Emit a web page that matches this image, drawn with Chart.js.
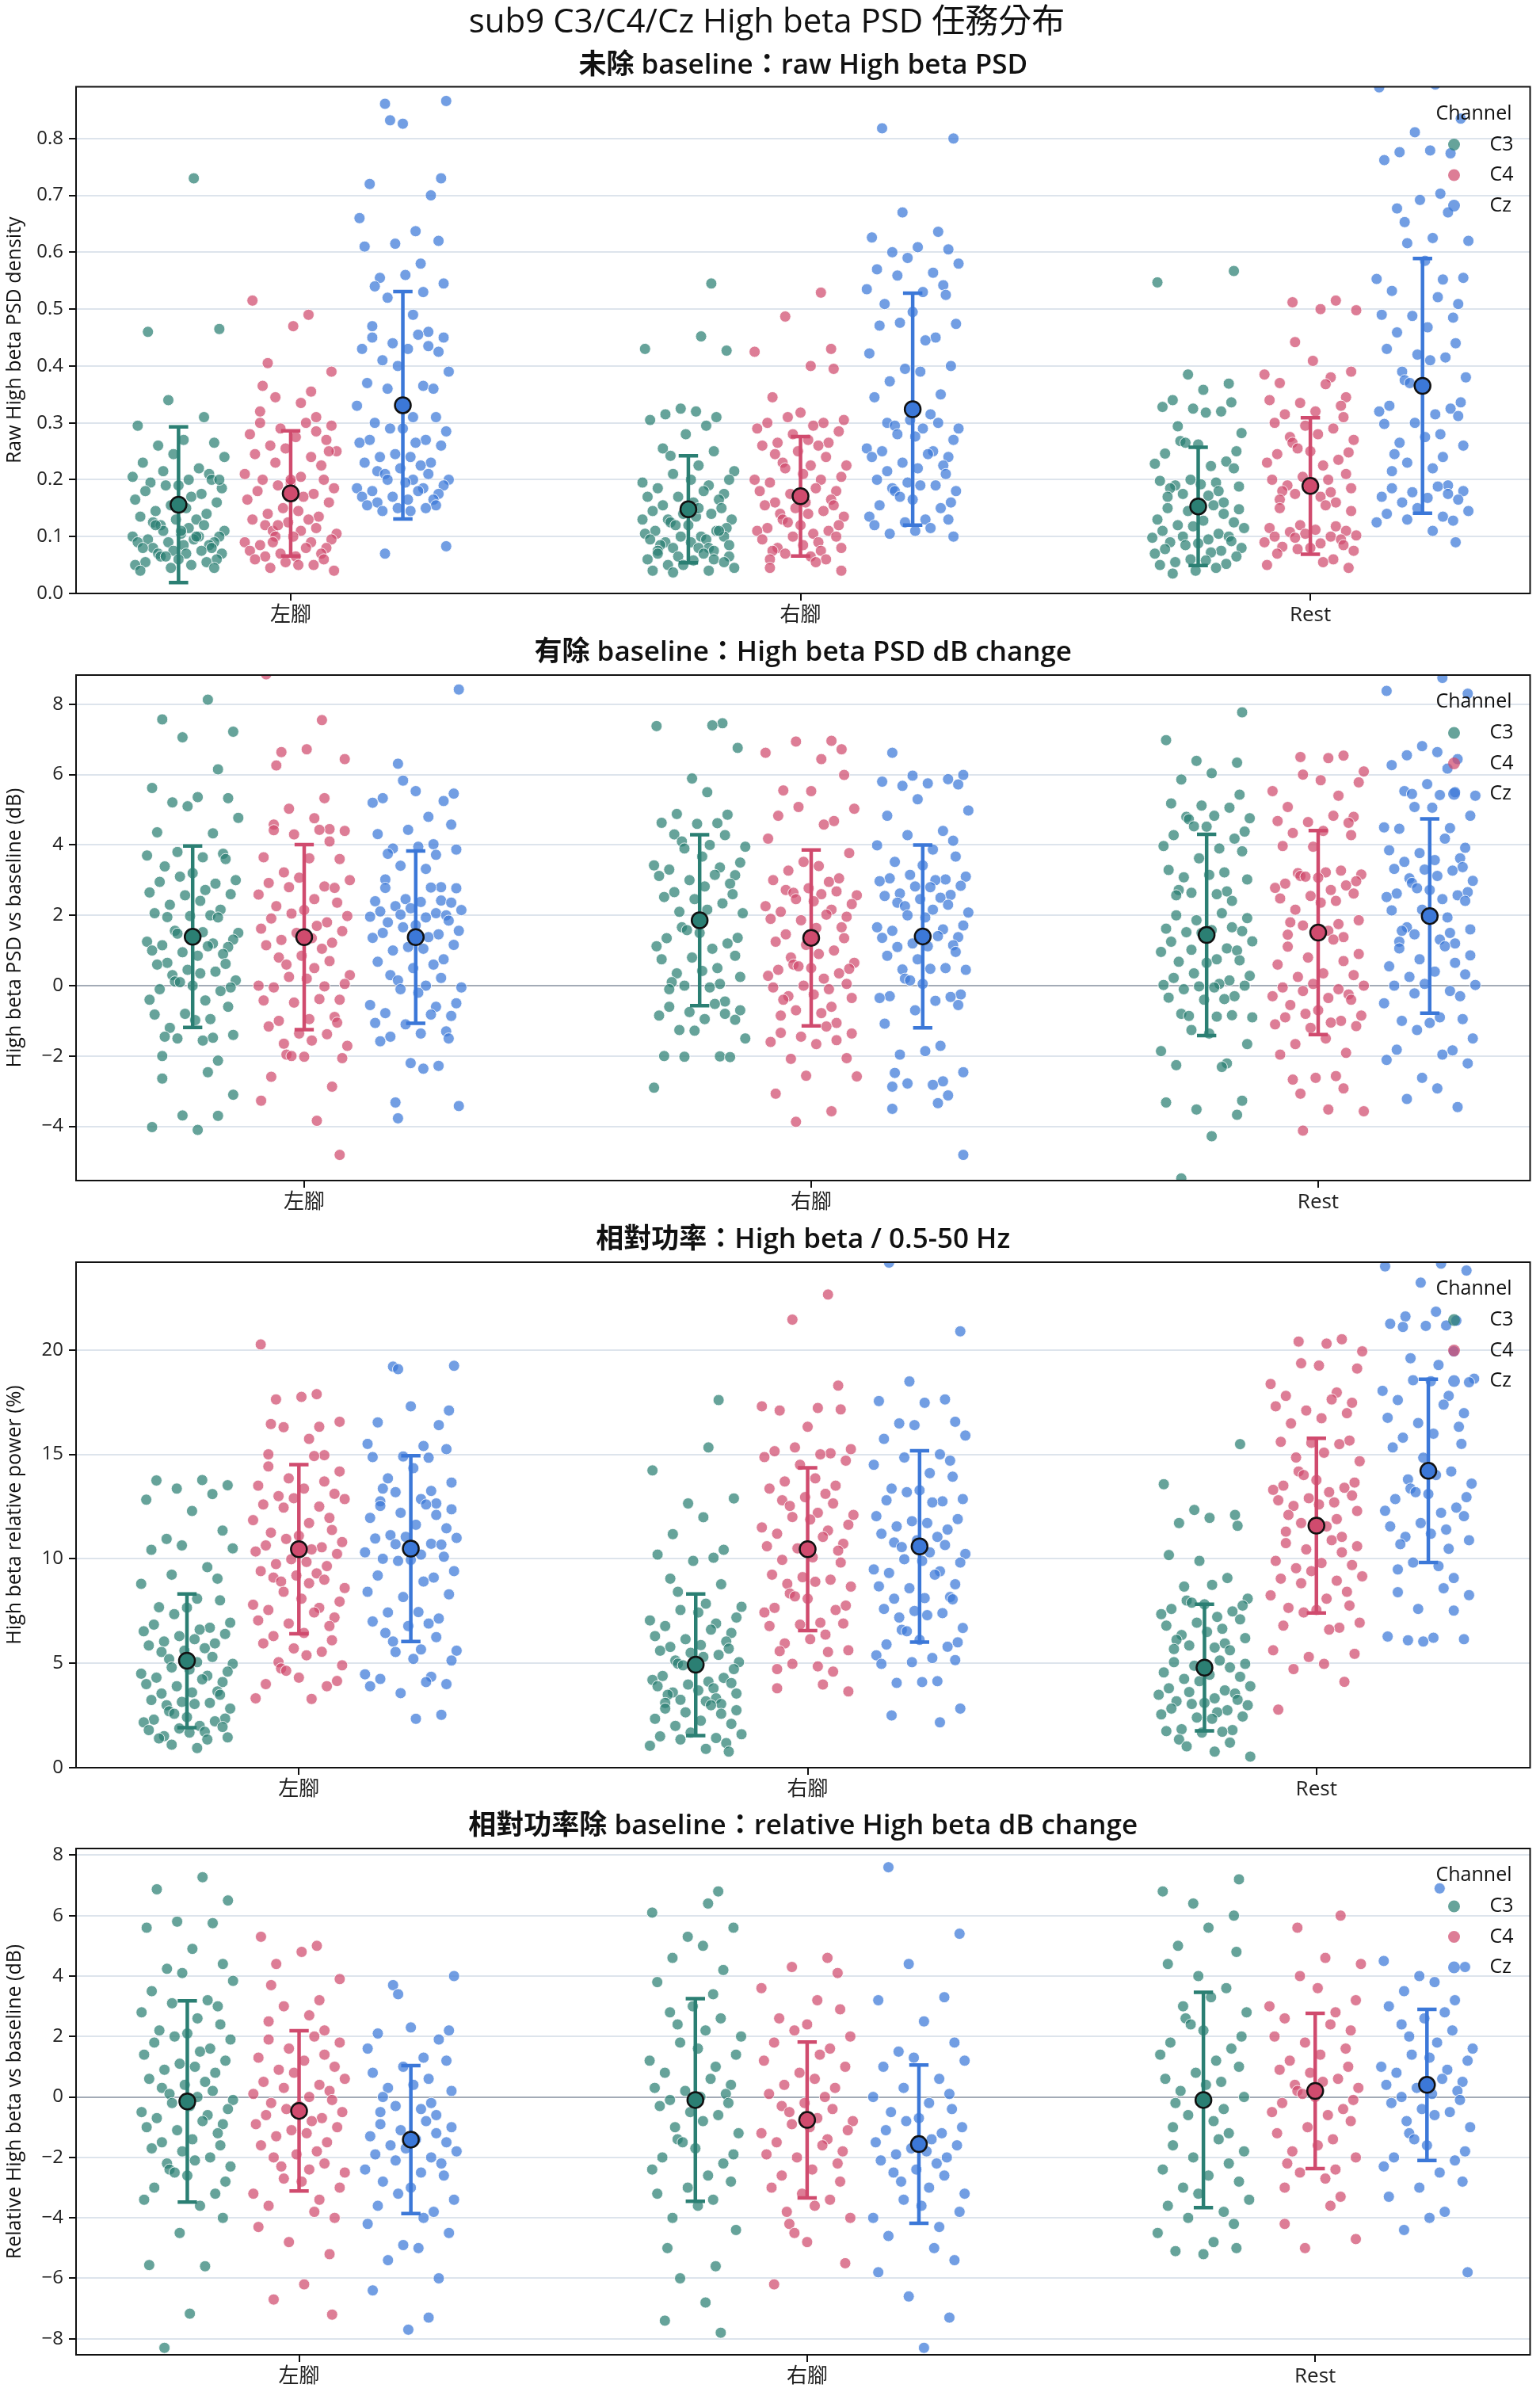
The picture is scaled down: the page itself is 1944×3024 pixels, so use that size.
<!DOCTYPE html>
<html>
<head>
<meta charset="utf-8">
<script src="https://cdn.jsdelivr.net/npm/chart.js@4.4.1/dist/chart.umd.min.js"></script>
<style>
  html, body { margin: 0; padding: 0; background: #fff; }
  #wrap { position: relative; width: 1944px; height: 3024px; background: #fff; }
  canvas { position: absolute; left: 0; }
</style>
</head>
<body>
<div id="wrap">
  <canvas id="c1"></canvas>
  <canvas id="c2"></canvas>
  <canvas id="c3"></canvas>
  <canvas id="c4"></canvas>
</div>
<script>
// categorias y canales
const categories = ['左腳', '右腳', 'Rest'];
const channels = ['C3', 'C4', 'Cz'];

// ticks de cada panel
const rawTicks = [0, 0.1, 0.2, 0.3, 0.4, 0.5, 0.6, 0.7, 0.8];
const dbTicks = [-4, -2, 0, 2, 4, 6, 8];
const relTicks = [0, 5, 10, 15, 20];
const rdbTicks = [-8, -6, -4, -2, 0, 2, 4, 6, 8];

// jitter horizontal (offset dentro de cada grupo)
const jitter = [0.03, -0.06, 0.08, -0.02, 0.05, -0.08, 0.01, 0.07, -0.04, -0.01,
  0.09, -0.07, 0.04, -0.03, 0.06, -0.09, 0.02, 0.065, -0.055, 0.0,
  -0.025, 0.085, -0.065, 0.045, 0.025, -0.085, 0.075, -0.015, 0.015, -0.045,
  0.055, -0.075, 0.035, -0.005, -0.05, 0.05, -0.035, 0.02, 0.09, -0.03,
  0.005, 0.08, -0.09, 0.04, -0.06, 0.03, 0.07, -0.08, -0.02, 0.06,
  0.01, -0.05, 0.065, -0.07, -0.01, 0.045, 0.015, -0.04, 0.085, -0.035,
  -0.025, 0.0, 0.075, -0.065, 0.055, -0.085, 0.025, 0.07, -0.015, -0.075,
  0.035, 0.005, -0.045, 0.08, -0.055, 0.04, -0.03, 0.02, -0.06, 0.05];

// ---- Panel 1: raw High beta PSD ----
const rawC3L = [0.73, 0.46, 0.465, 0.34, 0.31, 0.295, 0.27, 0.265, 0.26, 0.245, 0.24, 0.23, 0.22, 0.215, 0.21, 0.205, 0.2, 0.2, 0.195, 0.19, 0.19, 0.185, 0.18, 0.175, 0.17, 0.165, 0.16, 0.155, 0.15, 0.145, 0.14, 0.135, 0.13, 0.13, 0.125, 0.12, 0.12, 0.115, 0.11, 0.11, 0.105, 0.1, 0.1, 0.1, 0.095, 0.095, 0.09, 0.09, 0.09, 0.085, 0.085, 0.08, 0.08, 0.08, 0.075, 0.075, 0.07, 0.07, 0.07, 0.065, 0.065, 0.06, 0.06, 0.055, 0.055, 0.05, 0.05, 0.045, 0.045, 0.04, 0.1, 0.11, 0.12, 0.2];
const rawC3R = [0.545, 0.452, 0.43, 0.427, 0.325, 0.32, 0.315, 0.31, 0.305, 0.295, 0.28, 0.255, 0.25, 0.242, 0.225, 0.215, 0.21, 0.2, 0.2, 0.195, 0.19, 0.185, 0.18, 0.175, 0.17, 0.17, 0.165, 0.16, 0.155, 0.15, 0.145, 0.14, 0.14, 0.135, 0.13, 0.13, 0.125, 0.12, 0.12, 0.115, 0.11, 0.11, 0.105, 0.1, 0.1, 0.1, 0.095, 0.095, 0.09, 0.09, 0.085, 0.085, 0.08, 0.08, 0.08, 0.075, 0.075, 0.07, 0.07, 0.065, 0.065, 0.06, 0.06, 0.058, 0.055, 0.05, 0.05, 0.045, 0.04, 0.04, 0.037, 0.11, 0.13, 0.15];
const rawC3Rest = [0.567, 0.547, 0.385, 0.369, 0.358, 0.34, 0.336, 0.328, 0.325, 0.32, 0.318, 0.294, 0.282, 0.268, 0.265, 0.262, 0.25, 0.246, 0.232, 0.228, 0.224, 0.22, 0.2, 0.198, 0.195, 0.192, 0.19, 0.188, 0.185, 0.18, 0.175, 0.172, 0.17, 0.16, 0.155, 0.15, 0.148, 0.145, 0.14, 0.13, 0.128, 0.125, 0.12, 0.118, 0.115, 0.11, 0.105, 0.1, 0.1, 0.098, 0.095, 0.092, 0.09, 0.088, 0.085, 0.08, 0.078, 0.075, 0.072, 0.07, 0.065, 0.06, 0.058, 0.055, 0.052, 0.05, 0.045, 0.04, 0.035];
const rawC4L = [0.515, 0.49, 0.47, 0.405, 0.39, 0.365, 0.355, 0.345, 0.335, 0.32, 0.31, 0.3, 0.3, 0.295, 0.29, 0.285, 0.28, 0.275, 0.27, 0.26, 0.255, 0.25, 0.245, 0.24, 0.23, 0.225, 0.21, 0.205, 0.2, 0.2, 0.195, 0.19, 0.185, 0.18, 0.175, 0.17, 0.165, 0.16, 0.15, 0.145, 0.14, 0.135, 0.13, 0.13, 0.125, 0.12, 0.115, 0.11, 0.11, 0.105, 0.1, 0.1, 0.095, 0.09, 0.09, 0.085, 0.08, 0.08, 0.075, 0.07, 0.07, 0.065, 0.065, 0.06, 0.06, 0.055, 0.05, 0.05, 0.045, 0.04, 0.09, 0.12, 0.2, 0.25];
const rawC4R = [0.529, 0.487, 0.43, 0.425, 0.4, 0.395, 0.345, 0.318, 0.31, 0.305, 0.3, 0.3, 0.295, 0.29, 0.285, 0.28, 0.27, 0.265, 0.265, 0.26, 0.26, 0.25, 0.245, 0.24, 0.23, 0.225, 0.225, 0.22, 0.21, 0.205, 0.2, 0.2, 0.195, 0.185, 0.18, 0.18, 0.175, 0.165, 0.16, 0.16, 0.155, 0.155, 0.15, 0.145, 0.14, 0.14, 0.135, 0.13, 0.125, 0.12, 0.12, 0.115, 0.11, 0.11, 0.105, 0.1, 0.1, 0.095, 0.09, 0.085, 0.08, 0.08, 0.075, 0.075, 0.07, 0.065, 0.06, 0.06, 0.055, 0.045, 0.04];
const rawC4Rest = [0.515, 0.512, 0.5, 0.498, 0.442, 0.409, 0.39, 0.385, 0.38, 0.37, 0.368, 0.345, 0.34, 0.335, 0.33, 0.32, 0.315, 0.31, 0.3, 0.295, 0.29, 0.28, 0.275, 0.27, 0.265, 0.255, 0.25, 0.248, 0.245, 0.235, 0.23, 0.225, 0.21, 0.205, 0.2, 0.2, 0.195, 0.19, 0.185, 0.18, 0.178, 0.175, 0.17, 0.165, 0.16, 0.155, 0.15, 0.145, 0.12, 0.118, 0.115, 0.112, 0.11, 0.108, 0.105, 0.102, 0.1, 0.1, 0.098, 0.095, 0.09, 0.088, 0.085, 0.082, 0.08, 0.078, 0.075, 0.07, 0.06, 0.055, 0.05, 0.045];
const rawCzL = [0.866, 0.861, 0.832, 0.826, 0.73, 0.72, 0.7, 0.66, 0.637, 0.62, 0.615, 0.61, 0.58, 0.56, 0.555, 0.545, 0.54, 0.53, 0.52, 0.49, 0.47, 0.46, 0.455, 0.45, 0.45, 0.44, 0.435, 0.43, 0.43, 0.425, 0.41, 0.4, 0.39, 0.37, 0.365, 0.36, 0.36, 0.33, 0.31, 0.31, 0.3, 0.29, 0.29, 0.285, 0.27, 0.27, 0.265, 0.265, 0.26, 0.245, 0.24, 0.24, 0.23, 0.23, 0.225, 0.22, 0.215, 0.21, 0.21, 0.2, 0.2, 0.2, 0.195, 0.19, 0.185, 0.185, 0.18, 0.18, 0.175, 0.17, 0.17, 0.165, 0.165, 0.16, 0.155, 0.155, 0.15, 0.15, 0.145, 0.145, 0.083, 0.07];
const rawCzR = [0.818, 0.8, 0.67, 0.636, 0.626, 0.609, 0.605, 0.6, 0.59, 0.58, 0.57, 0.564, 0.559, 0.542, 0.535, 0.53, 0.525, 0.509, 0.495, 0.476, 0.474, 0.471, 0.45, 0.445, 0.422, 0.4, 0.395, 0.39, 0.373, 0.35, 0.345, 0.315, 0.305, 0.3, 0.3, 0.295, 0.29, 0.29, 0.28, 0.276, 0.27, 0.255, 0.25, 0.25, 0.245, 0.24, 0.24, 0.23, 0.225, 0.22, 0.215, 0.21, 0.2, 0.195, 0.19, 0.19, 0.185, 0.18, 0.18, 0.17, 0.165, 0.16, 0.155, 0.15, 0.135, 0.13, 0.13, 0.125, 0.12, 0.115, 0.11, 0.105, 0.1];
const rawCzRest = [0.895, 0.89, 0.835, 0.811, 0.779, 0.776, 0.774, 0.762, 0.703, 0.692, 0.677, 0.67, 0.653, 0.625, 0.62, 0.616, 0.585, 0.555, 0.553, 0.552, 0.532, 0.521, 0.509, 0.49, 0.488, 0.485, 0.468, 0.459, 0.44, 0.43, 0.42, 0.415, 0.41, 0.39, 0.38, 0.375, 0.37, 0.36, 0.336, 0.33, 0.325, 0.32, 0.315, 0.312, 0.3, 0.298, 0.28, 0.275, 0.265, 0.26, 0.245, 0.24, 0.23, 0.22, 0.215, 0.19, 0.188, 0.185, 0.18, 0.178, 0.175, 0.17, 0.168, 0.165, 0.16, 0.15, 0.145, 0.14, 0.135, 0.13, 0.128, 0.125, 0.11, 0.09];
const rawMeanC3 = [0.156, 0.148, 0.153], rawSdC3 = [0.137, 0.094, 0.104];
const rawMeanC4 = [0.176, 0.171, 0.189], rawSdC4 = [0.11, 0.105, 0.12];
const rawMeanCz = [0.331, 0.324, 0.365], rawSdCz = [0.2, 0.204, 0.224];

// ---- Panel 2: dB change ----
const dbC3L = [8.13, 7.57, 7.22, 7.06, 6.15, 5.62, 5.36, 5.33, 5.21, 5.1, 4.77, 4.36, 4.33, 3.8, 3.75, 3.7, 3.65, 3.6, 3.39, 3.2, 3.1, 3.0, 2.95, 2.9, 2.72, 2.65, 2.6, 2.57, 2.41, 2.3, 2.16, 2.06, 2.0, 1.98, 1.95, 1.94, 1.56, 1.52, 1.5, 1.48, 1.46, 1.31, 1.25, 1.2, 1.15, 1.12, 1.1, 1.0, 0.95, 0.9, 0.85, 0.65, 0.62, 0.6, 0.45, 0.4, 0.35, 0.3, 0.15, 0.12, 0.1, 0.0, -0.05, -0.1, -0.15, -0.4, -0.42, -0.6, -0.8, -0.82, -0.95, -0.98, -1.2, -1.4, -1.45, -1.48, -1.5, -1.56, -2.0, -2.13, -2.46, -2.64, -3.1, -3.69, -3.7, -4.02, -4.1];
const dbC3R = [7.46, 7.4, 7.38, 6.76, 5.89, 5.5, 4.88, 4.86, 4.63, 4.62, 4.6, 4.3, 4.28, 4.1, 4.0, 3.95, 3.9, 3.67, 3.5, 3.42, 3.36, 3.3, 3.15, 3.14, 3.12, 3.0, 2.9, 2.82, 2.66, 2.6, 2.52, 2.46, 2.34, 2.16, 2.1, 2.06, 1.66, 1.58, 1.5, 1.36, 1.35, 1.2, 1.12, 1.05, 0.85, 0.8, 0.75, 0.5, 0.42, 0.35, 0.25, 0.1, 0.05, 0.0, -0.05, -0.1, -0.45, -0.52, -0.6, -0.7, -0.75, -0.8, -0.85, -0.95, -0.97, -1.26, -1.28, -1.5, -2.0, -2.01, -2.02, -2.03, -2.9];
const dbC3Rest = [7.77, 6.98, 6.39, 6.34, 6.04, 5.86, 5.43, 5.18, 5.12, 5.06, 4.83, 4.8, 4.76, 4.73, 4.53, 4.52, 4.38, 4.28, 4.18, 3.97, 3.9, 3.82, 3.62, 3.29, 3.22, 3.15, 3.08, 3.02, 2.72, 2.68, 2.64, 2.6, 2.57, 2.41, 2.06, 2.0, 1.92, 1.86, 1.66, 1.62, 1.58, 1.55, 1.52, 1.5, 1.26, 1.25, 1.06, 1.02, 1.0, 0.96, 0.75, 0.72, 0.68, 0.65, 0.35, 0.28, 0.22, 0.15, 0.05, 0.02, 0.0, -0.02, -0.05, -0.1, -0.3, -0.34, -0.38, -0.4, -0.8, -0.84, -0.86, -0.88, -0.9, -1.26, -1.36, -1.66, -1.86, -2.21, -2.26, -2.31, -3.27, -3.32, -3.52, -3.67, -4.28, -5.48];
const dbC4L = [8.85, 7.55, 6.72, 6.64, 6.44, 6.26, 5.33, 5.03, 4.76, 4.58, 4.45, 4.43, 4.42, 4.4, 4.3, 4.1, 3.65, 3.62, 3.6, 3.22, 3.07, 3.0, 2.92, 2.82, 2.8, 2.78, 2.59, 2.46, 2.36, 2.26, 2.15, 2.05, 1.98, 1.91, 1.8, 1.7, 1.62, 1.55, 1.5, 1.35, 1.3, 1.22, 1.15, 1.05, 0.85, 0.8, 0.7, 0.6, 0.5, 0.3, 0.25, 0.2, 0.05, 0.0, -0.02, -0.05, -0.38, -0.4, -0.42, -0.48, -0.89, -0.95, -1.0, -1.05, -1.16, -1.36, -1.38, -1.56, -1.65, -1.71, -1.96, -2.0, -2.02, -2.06, -2.59, -2.87, -3.27, -3.84, -4.81];
const dbC4R = [6.96, 6.94, 6.72, 6.62, 6.44, 5.99, 5.55, 5.53, 5.08, 5.03, 4.83, 4.68, 4.58, 4.18, 3.77, 3.52, 3.4, 3.27, 3.05, 3.0, 2.95, 2.77, 2.72, 2.68, 2.64, 2.6, 2.57, 2.46, 2.4, 2.32, 2.26, 2.16, 2.1, 2.02, 1.96, 1.9, 1.86, 1.66, 1.64, 1.46, 1.35, 1.25, 1.16, 1.0, 0.9, 0.8, 0.65, 0.6, 0.55, 0.5, 0.48, 0.45, 0.35, 0.28, 0.2, 0.05, 0.0, -0.05, -0.1, -0.25, -0.3, -0.35, -0.4, -0.6, -0.7, -0.78, -0.85, -1.06, -1.16, -1.34, -1.36, -1.45, -1.55, -1.6, -1.66, -2.06, -2.08, -2.56, -2.58, -3.07, -3.57, -3.87];
const dbC4Rest = [6.54, 6.5, 6.47, 6.09, 6.0, 5.84, 5.78, 5.53, 5.4, 5.08, 4.83, 4.8, 4.68, 4.65, 4.63, 4.4, 4.34, 4.28, 3.97, 3.95, 3.27, 3.22, 3.2, 3.16, 3.12, 3.1, 3.07, 2.97, 2.9, 2.85, 2.78, 2.72, 2.62, 2.55, 2.48, 2.41, 2.36, 2.16, 1.86, 1.8, 1.75, 1.71, 1.56, 1.45, 1.38, 1.31, 1.11, 0.9, 0.8, 0.7, 0.6, 0.35, 0.3, 0.25, 0.05, 0.0, -0.05, -0.1, -0.15, -0.25, -0.3, -0.35, -0.4, -0.55, -0.7, -0.8, -0.85, -0.9, -1.0, -1.05, -1.1, -1.15, -1.2, -1.5, -1.66, -1.91, -1.96, -2.57, -2.62, -2.67, -2.92, -3.07, -3.52, -3.57, -4.12];
const dbCzL = [8.42, 6.31, 5.83, 5.53, 5.46, 5.33, 5.25, 5.2, 4.8, 4.58, 4.43, 4.31, 4.02, 3.95, 3.9, 3.87, 3.75, 3.72, 3.41, 3.32, 3.02, 2.8, 2.79, 2.78, 2.77, 2.46, 2.42, 2.4, 2.38, 2.36, 2.26, 2.2, 2.15, 2.11, 2.06, 2.02, 2.0, 1.96, 1.94, 1.85, 1.8, 1.72, 1.66, 1.56, 1.5, 1.46, 1.38, 1.36, 1.16, 1.1, 1.05, 1.0, 0.75, 0.68, 0.6, 0.5, 0.3, 0.22, 0.15, 0.0, -0.05, -0.1, -0.2, -0.5, -0.55, -0.6, -0.78, -0.82, -0.86, -1.06, -1.1, -1.3, -1.36, -1.45, -1.5, -1.58, -2.2, -2.28, -2.36, -3.32, -3.42, -3.77];
const dbCzR = [6.62, 5.99, 5.97, 5.87, 5.8, 5.75, 5.72, 5.68, 5.3, 4.98, 4.83, 4.4, 4.28, 4.12, 3.99, 3.87, 3.67, 3.52, 3.42, 3.15, 3.1, 3.05, 3.02, 3.0, 2.97, 2.84, 2.82, 2.8, 2.62, 2.58, 2.55, 2.5, 2.46, 2.36, 2.3, 2.26, 2.16, 2.08, 2.0, 1.94, 1.71, 1.66, 1.6, 1.56, 1.41, 1.38, 1.36, 1.2, 1.15, 1.12, 1.1, 0.96, 0.85, 0.75, 0.5, 0.48, 0.46, 0.45, 0.2, 0.15, 0.05, -0.25, -0.3, -0.32, -0.35, -0.43, -0.55, -0.7, -1.08, -1.71, -1.86, -1.96, -2.46, -2.48, -2.72, -2.78, -2.82, -2.87, -3.12, -3.34, -3.5, -4.81];
const dbCzRest = [8.75, 8.38, 8.3, 6.81, 6.64, 6.55, 6.44, 6.27, 6.17, 5.73, 5.53, 5.5, 5.45, 5.42, 5.4, 5.08, 5.06, 4.83, 4.5, 4.48, 4.46, 4.18, 3.92, 3.85, 3.77, 3.62, 3.57, 3.52, 3.37, 3.32, 3.3, 3.27, 3.12, 3.05, 2.98, 2.92, 2.77, 2.72, 2.66, 2.62, 2.57, 2.52, 2.46, 2.41, 2.16, 2.14, 1.94, 1.91, 1.66, 1.6, 1.56, 1.5, 1.46, 1.31, 1.25, 1.2, 1.12, 1.06, 0.86, 0.75, 0.65, 0.55, 0.4, 0.32, 0.25, 0.05, 0.02, 0.0, -0.15, -0.22, -0.3, -0.5, -0.9, -0.95, -1.0, -1.06, -1.26, -1.5, -1.82, -1.84, -1.96, -2.11, -2.21, -2.62, -2.92, -3.22, -3.45];
const dbMeanC3 = [1.39, 1.86, 1.44], dbSdC3 = [2.58, 2.43, 2.86];
const dbMeanC4 = [1.38, 1.36, 1.51], dbSdC4 = [2.63, 2.5, 2.9];
const dbMeanCz = [1.38, 1.40, 1.98], dbSdCz = [2.45, 2.6, 2.76];

// ---- Panel 3: relative power (%) ----
const relC3L = [13.77, 13.75, 13.52, 13.36, 13.1, 12.83, 12.29, 11.35, 10.95, 10.64, 10.5, 10.43, 9.6, 9.24, 9.05, 8.8, 8.09, 8.01, 7.68, 7.66, 7.35, 6.94, 6.85, 6.7, 6.61, 6.53, 6.4, 6.3, 6.15, 6.04, 5.95, 5.85, 5.72, 5.6, 5.54, 5.3, 5.2, 5.05, 4.97, 4.8, 4.7, 4.6, 4.5, 4.4, 4.31, 4.23, 4.1, 4.0, 3.9, 3.65, 3.6, 3.55, 3.49, 3.24, 3.15, 3.1, 3.05, 2.99, 2.83, 2.7, 2.58, 2.42, 2.35, 2.3, 2.22, 2.17, 2.0, 1.95, 1.88, 1.8, 1.72, 1.68, 1.51, 1.45, 1.4, 1.35, 1.1, 0.94];
const relC3R = [17.6, 15.33, 14.23, 12.89, 12.65, 11.99, 11.18, 10.43, 10.2, 10.05, 9.9, 9.05, 8.78, 8.42, 7.85, 7.7, 7.55, 7.43, 7.19, 7.05, 6.9, 6.78, 6.61, 6.45, 6.3, 6.15, 6.04, 5.87, 5.78, 5.7, 5.6, 5.5, 5.4, 5.3, 5.13, 5.05, 4.98, 4.9, 4.8, 4.72, 4.39, 4.3, 4.2, 4.12, 4.05, 3.98, 3.9, 3.8, 3.7, 3.6, 3.55, 3.49, 3.32, 3.25, 3.18, 3.1, 3.05, 2.99, 2.83, 2.75, 2.65, 2.58, 2.34, 2.25, 2.1, 2.0, 1.68, 1.6, 1.5, 1.42, 1.35, 1.18, 1.05, 0.9, 0.77];
const relC3Rest = [15.49, 13.57, 12.34, 12.1, 11.96, 11.71, 11.58, 10.18, 9.9, 9.08, 8.75, 8.67, 8.09, 8.0, 7.9, 7.82, 7.76, 7.6, 7.48, 7.35, 7.22, 7.1, 6.94, 6.8, 6.65, 6.5, 6.35, 6.2, 6.12, 5.95, 5.85, 5.75, 5.68, 5.62, 5.13, 5.05, 4.97, 4.88, 4.8, 4.56, 4.45, 4.35, 4.25, 4.14, 3.9, 3.8, 3.7, 3.62, 3.55, 3.49, 3.32, 3.25, 3.18, 3.1, 3.05, 2.99, 2.83, 2.75, 2.65, 2.55, 2.45, 2.4, 2.34, 1.84, 1.8, 1.75, 1.72, 1.68, 1.35, 1.2, 1.02, 0.77, 0.53];
const relC4L = [20.26, 17.88, 17.75, 17.63, 16.56, 16.45, 16.32, 16.3, 15.74, 15.0, 14.96, 14.92, 14.42, 14.18, 13.85, 13.7, 13.5, 13.36, 13.11, 13.0, 12.9, 12.86, 12.6, 12.5, 12.45, 11.96, 11.85, 11.71, 11.38, 11.25, 11.1, 10.95, 10.8, 10.64, 10.55, 10.45, 10.35, 10.23, 9.98, 9.85, 9.75, 9.65, 9.41, 9.3, 9.2, 9.1, 9.0, 8.91, 8.83, 8.6, 8.42, 8.09, 7.95, 7.8, 7.65, 7.55, 7.43, 7.19, 7.05, 6.9, 6.78, 6.45, 6.3, 6.1, 5.95, 5.71, 5.55, 5.38, 5.05, 4.9, 4.75, 4.64, 4.31, 4.15, 4.0, 3.9, 3.32, 3.29];
const relC4R = [22.65, 21.45, 18.29, 17.3, 17.22, 17.15, 17.1, 16.32, 15.33, 15.25, 15.15, 15.05, 15.0, 14.87, 14.7, 14.5, 13.85, 13.7, 13.5, 13.36, 13.11, 12.95, 12.8, 12.65, 12.53, 12.2, 12.1, 12.0, 11.88, 11.63, 11.5, 11.35, 11.2, 11.05, 10.72, 10.6, 10.5, 10.39, 10.07, 9.95, 9.82, 9.24, 9.12, 9.0, 8.9, 8.8, 8.67, 8.34, 8.2, 8.09, 7.76, 7.65, 7.55, 7.43, 6.94, 6.9, 6.85, 6.78, 6.37, 6.15, 5.95, 5.62, 5.58, 5.54, 4.97, 4.85, 4.72, 4.6, 3.98, 3.8, 3.65];
const relC4Rest = [20.51, 20.4, 20.3, 19.93, 19.36, 19.25, 19.11, 18.37, 17.96, 17.8, 17.63, 17.47, 17.3, 17.1, 16.97, 16.73, 16.48, 15.66, 15.6, 15.55, 15.49, 15.08, 14.85, 14.67, 14.18, 14.01, 13.77, 13.65, 13.5, 13.4, 13.3, 13.19, 13.03, 12.9, 12.8, 12.7, 12.6, 12.53, 12.29, 12.1, 11.9, 11.71, 11.55, 11.3, 11.05, 10.89, 10.75, 10.6, 10.45, 10.31, 9.9, 9.8, 9.7, 9.55, 9.41, 9.16, 9.05, 8.95, 8.83, 8.42, 8.25, 8.09, 7.76, 7.65, 7.55, 7.43, 6.94, 6.8, 6.7, 6.61, 5.62, 5.45, 5.3, 4.97, 4.72, 4.11, 2.78];
const relCzL = [19.24, 19.2, 19.08, 17.3, 17.1, 16.53, 16.4, 15.5, 15.4, 15.25, 14.9, 14.87, 14.84, 14.34, 13.85, 13.65, 13.36, 13.25, 13.19, 12.86, 12.75, 12.65, 12.6, 12.53, 12.37, 12.2, 12.1, 11.96, 11.63, 11.46, 11.13, 11.05, 11.0, 10.97, 10.72, 10.7, 10.68, 10.31, 10.2, 10.1, 10.0, 9.95, 9.9, 9.41, 9.2, 9.1, 8.91, 8.42, 8.3, 8.17, 7.45, 7.43, 7.14, 7.0, 6.9, 6.78, 6.45, 6.25, 6.04, 5.66, 5.6, 5.54, 5.21, 5.13, 4.47, 4.35, 4.25, 4.1, 4.0, 3.9, 3.57, 2.53, 2.34];
const relCzR = [24.18, 20.89, 18.49, 17.63, 17.55, 17.47, 16.56, 16.48, 16.4, 15.9, 15.74, 15.0, 14.85, 14.7, 14.5, 14.1, 13.93, 13.36, 13.28, 13.19, 12.86, 12.8, 12.75, 12.7, 12.04, 11.9, 11.8, 11.71, 11.55, 11.4, 11.2, 11.05, 10.89, 10.78, 10.66, 10.56, 10.31, 10.23, 9.98, 9.9, 9.82, 9.49, 9.4, 9.32, 9.24, 8.78, 8.68, 8.59, 8.17, 8.12, 8.09, 8.06, 7.6, 7.5, 7.4, 7.3, 7.19, 6.69, 6.6, 6.53, 6.12, 6.0, 5.9, 5.79, 5.38, 5.25, 5.15, 5.05, 4.97, 4.14, 4.1, 4.06, 2.83, 2.5, 2.17];
const relCzRest = [24.13, 24.0, 23.8, 23.22, 21.83, 21.6, 21.4, 21.25, 21.17, 21.15, 21.1, 19.93, 19.6, 19.28, 18.62, 18.55, 18.5, 18.45, 18.04, 17.8, 17.6, 17.38, 16.97, 16.75, 16.5, 16.32, 15.99, 15.8, 15.5, 15.33, 14.84, 14.18, 14.01, 13.8, 13.6, 13.36, 13.19, 13.1, 12.95, 12.86, 12.45, 12.3, 12.2, 12.04, 11.71, 11.55, 11.4, 11.2, 11.05, 10.89, 10.7, 10.48, 9.82, 9.65, 9.49, 9.08, 8.59, 8.4, 8.26, 7.6, 7.52, 6.28, 6.22, 6.15, 6.1, 6.04];
const relMeanC3 = [5.12, 4.93, 4.79], relSdC3 = [3.2, 3.39, 3.03];
const relMeanC4 = [10.46, 10.46, 11.59], relSdC4 = [4.05, 3.9, 4.18];
const relMeanCz = [10.49, 10.59, 14.21], relSdCz = [4.45, 4.58, 4.39];

// ---- Panel 4: relative High beta dB change ----
const rdbC3L = [7.27, 6.87, 6.5, 5.8, 5.75, 5.6, 4.9, 4.4, 4.24, 4.1, 3.84, 3.5, 3.2, 3.1, 3.0, 2.8, 2.6, 2.4, 2.2, 2.1, 2.0, 1.9, 1.8, 1.6, 1.5, 1.4, 1.2, 1.1, 1.0, 0.9, 0.8, 0.6, 0.5, 0.4, 0.3, 0.2, 0.1, 0.0, -0.1, -0.2, -0.3, -0.4, -0.5, -0.6, -0.7, -0.8, -0.9, -1.0, -1.1, -1.2, -1.4, -1.5, -1.6, -1.7, -1.8, -2.0, -2.1, -2.2, -2.3, -2.4, -2.5, -2.6, -2.8, -3.0, -3.2, -3.4, -3.6, -4.0, -4.5, -5.56, -5.6, -7.17, -8.3];
const rdbC3R = [6.8, 6.4, 6.1, 5.6, 5.3, 5.0, 4.6, 4.2, 3.8, 3.4, 3.0, 2.8, 2.6, 2.4, 2.2, 2.0, 1.8, 1.6, 1.4, 1.2, 1.0, 0.8, 0.6, 0.4, 0.3, 0.2, 0.1, 0.0, -0.1, -0.2, -0.3, -0.5, -0.6, -0.8, -1.0, -1.2, -1.4, -1.5, -1.7, -1.9, -2.0, -2.2, -2.4, -2.6, -2.8, -3.0, -3.2, -3.4, -3.6, -4.0, -4.4, -5.0, -5.6, -6.0, -6.8, -7.4, -7.8];
const rdbC3Rest = [7.2, 6.8, 6.4, 6.0, 5.6, 5.0, 4.8, 4.4, 4.0, 3.6, 3.3, 3.0, 2.8, 2.6, 2.4, 2.2, 2.0, 1.8, 1.6, 1.4, 1.2, 1.0, 0.8, 0.6, 0.5, 0.4, 0.2, 0.0, -0.2, -0.4, -0.6, -0.8, -1.0, -1.2, -1.4, -1.6, -1.8, -2.0, -2.2, -2.4, -2.6, -2.8, -3.0, -3.2, -3.4, -3.6, -3.8, -4.0, -4.2, -4.5, -4.8, -5.0, -5.1, -5.2];
const rdbC4L = [5.3, 5.0, 4.8, 4.4, 3.9, 3.7, 3.2, 3.0, 2.7, 2.5, 2.2, 2.0, 1.9, 1.8, 1.6, 1.4, 1.3, 1.2, 1.0, 0.9, 0.8, 0.6, 0.5, 0.4, 0.3, 0.2, 0.1, 0.0, -0.1, -0.2, -0.3, -0.4, -0.5, -0.6, -0.7, -0.8, -0.9, -1.0, -1.1, -1.2, -1.3, -1.5, -1.6, -1.8, -1.9, -2.0, -2.2, -2.3, -2.4, -2.5, -2.7, -2.8, -3.0, -3.2, -3.4, -3.6, -3.8, -4.0, -4.3, -4.8, -5.2, -6.2, -6.7, -7.2];
const rdbC4R = [4.6, 4.3, 4.1, 3.6, 3.2, 2.9, 2.6, 2.4, 2.2, 2.0, 1.8, 1.6, 1.4, 1.2, 1.0, 0.8, 0.6, 0.4, 0.3, 0.1, 0.0, -0.2, -0.3, -0.4, -0.5, -0.7, -0.8, -0.9, -1.0, -1.1, -1.2, -1.4, -1.5, -1.6, -1.8, -1.9, -2.0, -2.2, -2.4, -2.6, -2.8, -3.0, -3.2, -3.4, -3.6, -3.8, -4.0, -4.2, -4.5, -4.8, -5.5, -6.2];
const rdbC4Rest = [6.0, 5.6, 4.6, 4.4, 4.0, 3.6, 3.2, 3.0, 2.8, 2.6, 2.4, 2.2, 2.0, 1.8, 1.6, 1.4, 1.2, 1.0, 0.9, 0.8, 0.6, 0.5, 0.4, 0.3, 0.2, 0.1, 0.0, -0.1, -0.2, -0.4, -0.5, -0.6, -0.8, -1.0, -1.2, -1.4, -1.6, -1.8, -2.0, -2.2, -2.4, -2.5, -2.7, -3.0, -3.3, -3.6, -4.2, -4.7, -5.0];
const rdbCzL = [4.0, 3.7, 3.4, 2.3, 2.2, 2.1, 1.9, 1.6, 1.3, 1.2, 1.0, 0.8, 0.6, 0.4, 0.3, 0.2, 0.0, -0.2, -0.3, -0.4, -0.5, -0.6, -0.8, -0.9, -1.0, -1.1, -1.2, -1.3, -1.4, -1.5, -1.6, -1.7, -1.8, -1.9, -2.0, -2.1, -2.2, -2.4, -2.5, -2.6, -2.8, -3.0, -3.2, -3.4, -3.6, -3.8, -4.0, -4.2, -4.5, -4.9, -5.0, -5.4, -6.0, -6.4, -7.3, -7.7];
const rdbCzR = [7.6, 5.4, 4.4, 3.3, 3.2, 2.5, 1.8, 1.5, 1.3, 1.2, 1.0, 0.6, 0.3, 0.1, 0.0, -0.2, -0.4, -0.5, -0.7, -0.8, -1.0, -1.1, -1.2, -1.4, -1.5, -1.6, -1.7, -1.8, -1.9, -2.0, -2.1, -2.2, -2.4, -2.5, -2.6, -2.8, -3.0, -3.2, -3.4, -3.6, -3.8, -4.0, -4.3, -4.6, -5.0, -5.4, -5.8, -6.6, -7.3, -8.3];
const rdbCzRest = [6.9, 4.5, 4.3, 4.0, 3.8, 3.5, 3.2, 3.0, 2.8, 2.6, 2.4, 2.2, 2.0, 1.8, 1.6, 1.4, 1.3, 1.2, 1.0, 0.9, 0.8, 0.6, 0.5, 0.4, 0.3, 0.2, 0.1, 0.0, -0.1, -0.2, -0.4, -0.5, -0.6, -0.8, -1.0, -1.2, -1.4, -1.6, -1.8, -2.0, -2.1, -2.3, -2.5, -2.8, -3.0, -3.3, -3.8, -4.0, -4.4, -5.8];
const rdbMeanC3 = [-0.15, -0.1, -0.1], rdbSdC3 = [3.33, 3.35, 3.56];
const rdbMeanC4 = [-0.46, -0.76, 0.2], rdbSdC4 = [2.65, 2.58, 2.57];
const rdbMeanCz = [-1.41, -1.56, 0.4], rdbSdCz = [2.45, 2.62, 2.5];

// estilos
const FONT = "'Open Sans', 'Noto Sans CJK TC', sans-serif";
const baseColor = ['#2b7f73', '#d04b6e', '#3c78d8'];
const fillColor = ['rgba(43,127,115,0.72)', 'rgba(208,75,110,0.72)', 'rgba(60,120,216,0.72)'];
const chOffset = [-0.22, 0, 0.22];
const minus = v => String(v).replace('-', '\u2212');

const panels = [
    { id: 'c1', top: 0, height: 797, topBlock: 'sup', title: '未除 baseline：raw High beta PSD',
      ylabel: 'Raw High beta PSD density', yMin: 0, yMax: 0.891, xMin: -0.421, xMax: 2.431,
      ticks: rawTicks, fmt: v => v.toFixed(1), zero: false,
      groups: [[rawC3L, rawC3R, rawC3Rest], [rawC4L, rawC4R, rawC4Rest], [rawCzL, rawCzR, rawCzRest]],
      means: [rawMeanC3, rawMeanC4, rawMeanCz], sds: [rawSdC3, rawSdC4, rawSdCz] },
    { id: 'c2', top: 797, height: 741, title: '有除 baseline：High beta PSD dB change',
      ylabel: 'High beta PSD vs baseline (dB)', yMin: -5.54, yMax: 8.83, xMin: -0.45, xMax: 2.418,
      ticks: dbTicks, fmt: minus, zero: true,
      groups: [[dbC3L, dbC3R, dbC3Rest], [dbC4L, dbC4R, dbC4Rest], [dbCzL, dbCzR, dbCzRest]],
      means: [dbMeanC3, dbMeanC4, dbMeanCz], sds: [dbSdC3, dbSdC4, dbSdCz] },
    { id: 'c3', top: 1538, height: 741, title: '相對功率：High beta / 0.5-50 Hz',
      ylabel: 'High beta relative power (%)', yMin: 0, yMax: 24.2, xMin: -0.438, xMax: 2.42,
      ticks: relTicks, fmt: v => String(v), zero: false,
      groups: [[relC3L, relC3R, relC3Rest], [relC4L, relC4R, relC4Rest], [relCzL, relCzR, relCzRest]],
      means: [relMeanC3, relMeanC4, relMeanCz], sds: [relSdC3, relSdC4, relSdCz] },
    { id: 'c4', top: 2278, height: 742, title: '相對功率除 baseline：relative High beta dB change',
      ylabel: 'Relative High beta vs baseline (dB)', yMin: -8.53, yMax: 8.22, xMin: -0.439, xMax: 2.423,
      ticks: rdbTicks, fmt: minus, zero: true,
      groups: [[rdbC3L, rdbC3R, rdbC3Rest], [rdbC4L, rdbC4R, rdbC4Rest], [rdbCzL, rdbCzR, rdbCzRest]],
      means: [rdbMeanC3, rdbMeanC4, rdbMeanCz], sds: [rdbSdC3, rdbSdC4, rdbSdCz] }
];

// marco negro alrededor del area del grafico
const framePlugin = {
    id: 'frame',
    afterDraw(chart) {
        const { ctx, chartArea: a } = chart;
        ctx.save();
        ctx.strokeStyle = '#111';
        ctx.lineWidth = 2;
        ctx.strokeRect(a.left, a.top, a.right - a.left, a.bottom - a.top);
        ctx.restore();
    }
};

// leyenda "Channel" dentro del grafico, arriba a la derecha
const channelLegend = {
    id: 'channelLegend',
    afterDatasetsDraw(chart) {
        const { ctx, chartArea: a } = chart;
        ctx.save();
        ctx.font = '25px ' + FONT;
        ctx.textBaseline = 'middle';
        ctx.fillStyle = '#111';
        ctx.textAlign = 'center';
        ctx.fillText('Channel', a.right - 71, a.top + 34);
        channels.forEach((ch, i) => {
            const y = a.top + 73 + i * 38.5;
            ctx.beginPath();
            ctx.arc(a.right - 96, y, 7.5, 0, Math.PI * 2);
            ctx.fillStyle = fillColor[i];
            ctx.fill();
            ctx.fillStyle = '#111';
            ctx.textAlign = 'left';
            ctx.fillText(ch, a.right - 51, y);
        });
        ctx.restore();
    }
};

function buildDatasets(p) {
    const datasets = [];
    let g = 0;
    // puntos individuales
    p.groups.forEach((byCat, ch) => {
        const pts = [];
        byCat.forEach((vals, cat) => {
            const shift = (g * 23) % jitter.length;
            vals.forEach((v, i) => {
                pts.push({ x: cat + chOffset[ch] + jitter[(i + shift) % jitter.length], y: v });
            });
            g++;
        });
        datasets.push({
            data: pts, order: 3,
            pointRadius: 7, pointHoverRadius: 7,
            backgroundColor: fillColor[ch], borderColor: 'rgba(255,255,255,0.85)', borderWidth: 1
        });
    });
    // barras de error (media +- sd)
    const cap = 0.019;
    p.means.forEach((m, ch) => {
        const seg = [];
        m.forEach((mu, cat) => {
            const x = cat + chOffset[ch];
            const lo = mu - p.sds[ch][cat], hi = mu + p.sds[ch][cat];
            seg.push({ x: x, y: lo }, { x: x, y: hi }, { x: x, y: null },
                     { x: x - cap, y: lo }, { x: x + cap, y: lo }, { x: x, y: null },
                     { x: x - cap, y: hi }, { x: x + cap, y: hi }, { x: x, y: null });
        });
        datasets.push({
            data: seg, order: 2, showLine: true, spanGaps: false,
            pointRadius: 0, borderColor: baseColor[ch], borderWidth: 4.5, borderCapStyle: 'butt'
        });
    });
    // marcadores de la media
    p.means.forEach((m, ch) => {
        datasets.push({
            data: m.map((mu, cat) => ({ x: cat + chOffset[ch], y: mu })), order: 1,
            pointRadius: 10, pointHoverRadius: 10,
            backgroundColor: baseColor[ch], borderColor: '#111', borderWidth: 2.5
        });
    });
    return datasets;
}

panels.forEach(p => {
    const canvas = document.getElementById(p.id);
    canvas.width = 1944;
    canvas.height = p.height;
    canvas.style.top = p.top + 'px';
    canvas.style.width = '1944px';
    canvas.style.height = p.height + 'px';

    const isFirst = p.topBlock === 'sup';
    new Chart(canvas, {
        type: 'scatter',
        data: { datasets: buildDatasets(p) },
        options: {
            responsive: false,
            animation: false,
            devicePixelRatio: 1,
            events: [],
            layout: { padding: { left: 0, right: 8, top: 0, bottom: 0 } },
            plugins: {
                legend: { display: false },
                tooltip: { enabled: false },
                title: {
                    display: isFirst,
                    text: 'sub9 C3/C4/Cz High beta PSD 任務分布',
                    color: '#111',
                    font: { family: FONT, size: 42, weight: 'normal' },
                    padding: { top: 3.8, bottom: 0 },
                    fullSize: true
                },
                subtitle: {
                    display: true,
                    text: p.title,
                    color: '#111',
                    font: { family: FONT, size: 35, weight: '600' },
                    padding: isFirst ? { top: 7.8, bottom: 5.5 } : { top: 6, bottom: 7 },
                    fullSize: false
                }
            },
            scales: {
                x: {
                    type: 'linear',
                    min: p.xMin,
                    max: p.xMax,
                    afterBuildTicks: s => { s.ticks = categories.map((c, i) => ({ value: i })); },
                    afterFit: s => { s.height = 48; },
                    ticks: {
                        callback: v => categories[v],
                        color: '#222',
                        font: { family: FONT, size: 26 },
                        padding: 3,
                        maxRotation: 0,
                        autoSkip: false
                    },
                    grid: { drawOnChartArea: false, drawTicks: true, tickLength: 9, color: '#111', lineWidth: 2 },
                    border: { display: false }
                },
                y: {
                    type: 'linear',
                    min: p.yMin,
                    max: p.yMax,
                    afterBuildTicks: s => { s.ticks = p.ticks.map(v => ({ value: v })); },
                    afterFit: s => { s.width = 96; },
                    ticks: {
                        callback: v => p.fmt(v),
                        color: '#222',
                        font: { family: FONT, size: 24 },
                        padding: 7
                    },
                    grid: {
                        color: c => (p.zero && c.tick && c.tick.value === 0) ? '#a3abb6' : '#dde4ec',
                        lineWidth: 2,
                        tickColor: '#111',
                        tickLength: 9,
                        tickWidth: 2
                    },
                    border: { display: false },
                    title: {
                        display: true,
                        text: p.ylabel,
                        color: '#111',
                        font: { family: FONT, size: 25 },
                        padding: { top: 4, bottom: 0 }
                    }
                }
            }
        },
        plugins: [framePlugin, channelLegend]
    });
});
</script>
</body>
</html>
